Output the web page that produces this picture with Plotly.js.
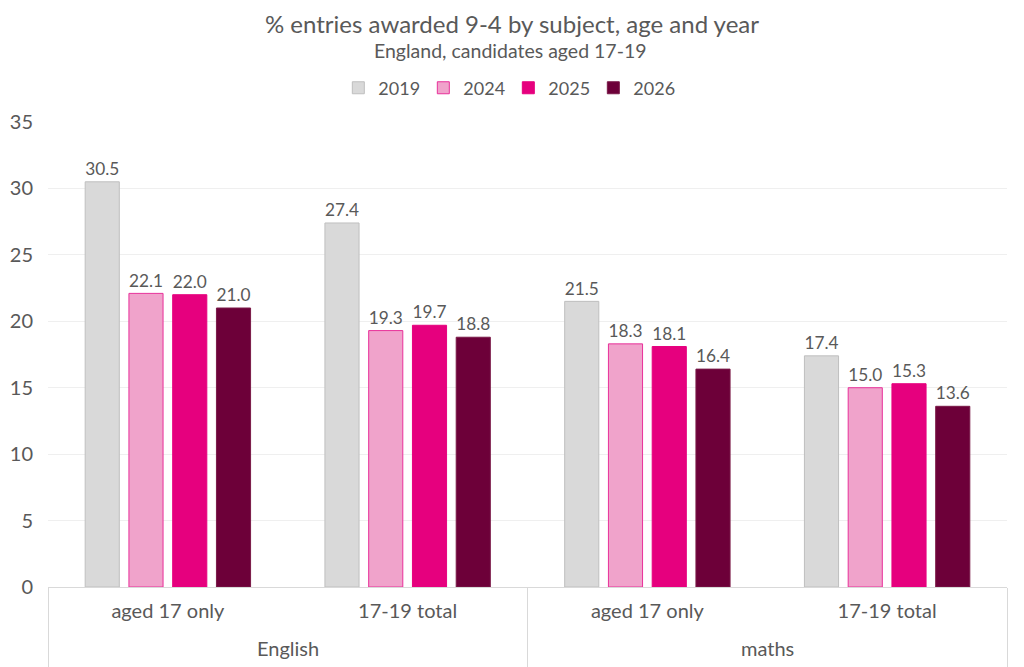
<!DOCTYPE html>
<html>
<head>
<meta charset="utf-8">
<script src="https://cdn.plot.ly/plotly-3.0.1.min.js"></script>
<style>
  html, body { margin: 0; padding: 0; background: #fff; }
  #chart { width: 1024px; height: 667px; }
</style>
</head>
<body>
<div id="chart"></div>
<script>
// % entries awarded 9-4, by subject / age group and year
const subjects = ['English', 'English', 'maths', 'maths'];
const ageGroups = ['aged 17 only', '17-19 total', 'aged 17 only', '17-19 total'];
const years = ['2019', '2024', '2025', '2026'];
const values2019 = [30.5, 27.4, 21.5, 17.4];
const values2024 = [22.1, 19.3, 18.3, 15.0];
const values2025 = [22.0, 19.7, 18.1, 15.3];
const values2026 = [21.0, 18.8, 16.4, 13.6];

const fills = ['#d9d9d9', '#f0a3cb', '#e6007e', '#6d0039'];
const edges = ['#bfbfbf', '#e8309a', '#e6007e', '#7a1a48'];
const series = [values2019, values2024, values2025, values2026];

const txt = '#595959';
const font = 'Lato, "Open Sans", sans-serif';

// outer level stays on the axis only to get the divider box; it is blank
// (one distinct key per subject, two lines tall) and the visible subject
// names are annotations, since the original has more room between rows
const subjectNames = [...new Set(subjects)];
const outerKeys = subjects.map(s => '\u00a0'.repeat(subjectNames.indexOf(s) + 1) + '<br>\u00a0');

const traces = series.map((vals, i) => ({
    type: 'bar',
    name: years[i],
    x: [outerKeys, ageGroups],
    y: vals,
    text: vals.map(v => v.toFixed(1)),
    textposition: 'outside',
    textfont: { color: txt, size: 18, family: font },
    cliponaxis: false,
    marker: { color: fills[i], line: { color: edges[i], width: 1 } },
    hoverinfo: 'skip'
}));

// one label per subject, centred on its categories (category index scale)
const subjectLabels = subjectNames.map(s => {
    const idx = subjects.map((v, i) => v === s ? i : -1).filter(i => i >= 0);
    return {
        text: s,
        xref: 'x', yref: 'paper',
        x: idx.reduce((a, b) => a + b, 0) / idx.length,
        xanchor: 'center',
        y: -0.131, yanchor: 'middle',
        showarrow: false,
        font: { size: 20, color: txt, family: font }
    };
});

const layout = {
    width: 1024,
    height: 667,
    paper_bgcolor: '#fff',
    plot_bgcolor: '#fff',
    font: { family: font, color: txt, size: 18 },
    margin: { l: 47.5, r: 16.5, t: 122, b: 80 },
    title: {
        text: '% entries awarded 9-4 by subject, age and year',
        font: { size: 24, color: txt, family: font },
        x: 0.5, xanchor: 'center',
        y: 0.9625, yanchor: 'middle'
    },
    annotations: [{
        text: 'England, candidates aged 17-19',
        xref: 'paper', yref: 'paper',
        x: 0.482, xanchor: 'center',
        y: 1.1548, yanchor: 'middle',
        showarrow: false,
        font: { size: 19.5, color: txt, family: font }
    }].concat(subjectLabels),
    showlegend: true,
    legend: {
        orientation: 'h',
        x: 0.48, xanchor: 'center',
        y: 1.073, yanchor: 'middle',
        font: { size: 18, color: txt },
        traceorder: 'normal',
        entrywidth: 40,
        entrywidthmode: 'pixels'
    },
    barmode: 'group',
    bargap: 0.27,
    bargroupgap: 0.22,
    xaxis: {
        type: 'multicategory',
        showline: true,
        linecolor: '#d9d9d9',
        linewidth: 1,
        showdividers: true,
        dividercolor: '#d9d9d9',
        dividerwidth: 1,
        tickfont: { size: 20, color: txt },
        ticklabelstandoff: 6,
        ticks: '',
        showgrid: false
    },
    yaxis: {
        range: [0, 35],
        dtick: 5,
        tick0: 0,
        showgrid: true,
        gridcolor: '#efefef',
        zeroline: false,
        showline: false,
        ticks: '',
        tickfont: { size: 20, color: txt },
        ticklabelstandoff: 14
    }
};

Plotly.newPlot('chart', traces, layout, { displayModeBar: false, staticPlot: true });
</script>
</body>
</html>
